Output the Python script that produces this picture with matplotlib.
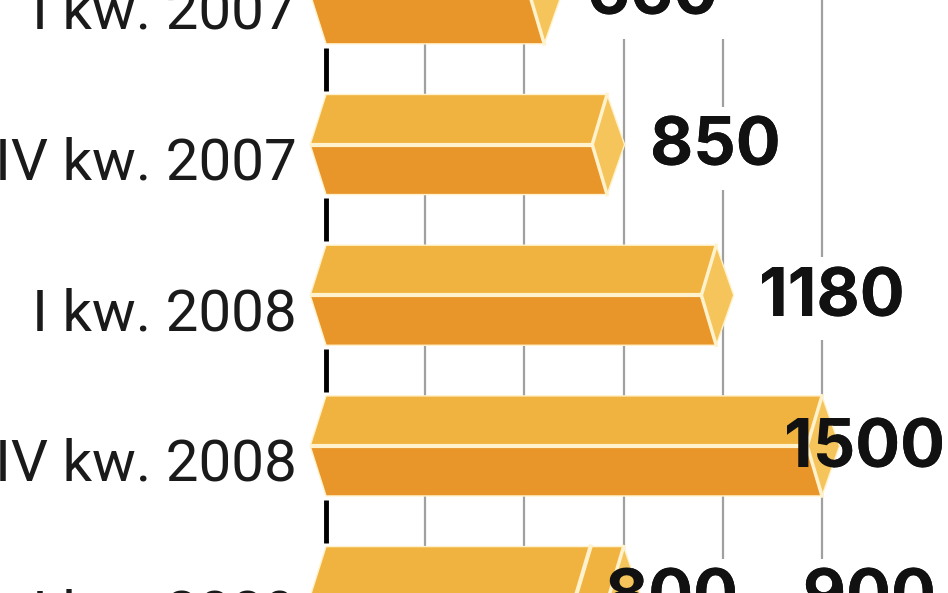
import matplotlib
matplotlib.use('Agg')
import matplotlib.pyplot as plt
from matplotlib.patches import Polygon

# data
categories = ['I kw. 2007', 'IV kw. 2007', 'I kw. 2008', 'IV kw. 2008', 'I kw. 2009']
values = [660, 850, 1180, 1500, 900]
split_at = [None, None, None, None, 800]   # last bar is a range 800-900
value_labels = ['660', '850', '1180', '1500', '800 – 900']
grid_ticks = [300, 600, 900, 1200, 1500]

# colours
top_col = '#F1B33F'
bot_col = '#E8962A'
cap_col = '#F5C55C'
seam_col = '#FFF2CC'

fig = plt.figure(figsize=(9.48, 5.93), dpi=100)
ax = fig.add_axes([0, 0, 1, 1])
ax.axis('off')
xmin, xmax = -986, 1881
ax.set_xlim(xmin, xmax)
ax.set_ylim(3.976, 0.041)

h = 0.332        # half bar height
tip_l = 48       # left chevron depth
cap_in = 45      # end cap inner offset
cap_out = 53     # end cap outer offset
gap = 0.025      # space between bar and black tick

# grid behind bars, black axis marks only between bars
ax.vlines(grid_ticks, -1, 6, color='#a0a0a0', lw=1.6, zorder=1)
for i in range(len(values) + 1):
    ax.plot([0, 0], [i - 1 + h + gap, i - h - gap], color='black', lw=3.5,
            solid_capstyle='butt', zorder=1)

for i, v in enumerate(values):
    top = [(0, i - h), (v, i - h), (v - cap_in, i), (-tip_l, i)]
    bot = [(-tip_l, i), (v - cap_in, i), (v, i + h), (0, i + h)]
    cap = [(v, i - h), (v + cap_out, i), (v, i + h), (v - cap_in, i)]
    ax.add_patch(Polygon(top, closed=True, fc=top_col, ec=seam_col, lw=1, zorder=3))
    ax.add_patch(Polygon(bot, closed=True, fc=bot_col, ec=seam_col, lw=1, zorder=3))
    ax.add_patch(Polygon(cap, closed=True, fc=cap_col, ec=seam_col, lw=1, zorder=3))
    ax.plot([-tip_l, v - cap_in], [i, i], color=seam_col, lw=3, zorder=4,
            solid_capstyle='butt')
    ax.plot([v, v - cap_in, v], [i - h, i, i + h], color=seam_col, lw=2.5, zorder=4)
    s = split_at[i]
    if s is not None:
        ax.plot([s, s - cap_in, s], [i - h, i, i + h], color=seam_col, lw=3, zorder=4)

# category labels
for i, c in enumerate(categories):
    ax.text(-88, i + 0.232, c, ha='right', va='baseline', fontsize=42,
            family=['Roboto', 'DejaVu Sans'], color='#1a1a1a', zorder=5)

# value labels: white box under the bars hides the grid, text drawn on top
for i, (v, lab) in enumerate(zip(values, value_labels)):
    if split_at[i] is not None:
        x, ha = split_at[i] + 45, 'left'
    elif v + 130 + len(lab) * 140 > xmax:
        x, ha = xmax - 9, 'right'
    else:
        x, ha = v + 130, 'left'
    kw = dict(ha=ha, va='baseline', fontsize=48, fontweight='bold',
              family=['Inter', 'DejaVu Sans'], color='#111111')
    ax.text(x, i + 0.14, lab, zorder=2,
            bbox=dict(boxstyle='square,pad=0.15', fc='white', ec='none'), **kw)
    ax.text(x, i + 0.14, lab, zorder=6, **kw)

fig.savefig('out.png', dpi=100, facecolor='white')
